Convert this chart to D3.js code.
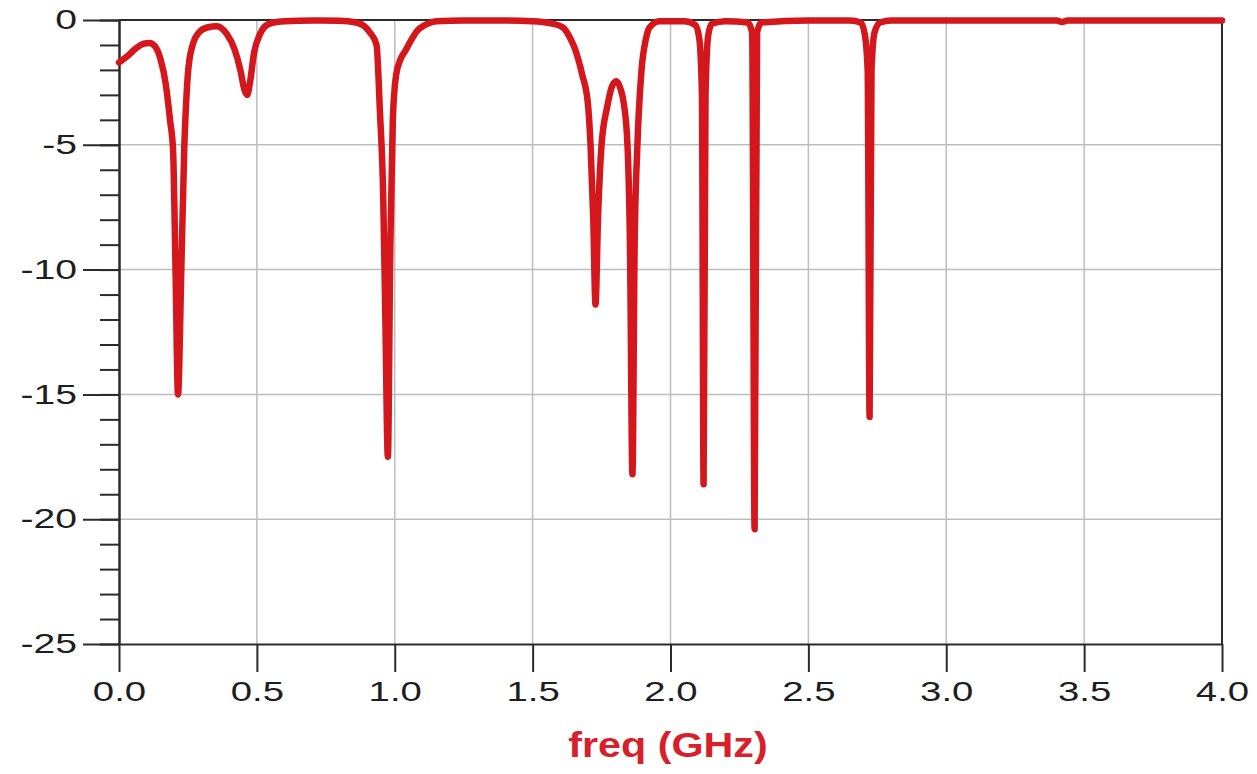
<!DOCTYPE html>
<html>
<head>
<meta charset="utf-8">
<script src="https://cdn.jsdelivr.net/npm/d3@7"></script>
<style>
  html, body { margin: 0; padding: 0; background: #fff; }
  svg { display: block; }
  .grid line { stroke: #bdbdbd; stroke-width: 1.5; }
  .axis path, .axis line { stroke: #2b2b2b; stroke-width: 2; }
  .axis text { font-family: "Liberation Sans", Arial, sans-serif; font-size: 27px; fill: #1e1e1e; }
</style>
</head>
<body>
<div id="chart"></div>
<script>
// --- Data (frequency in GHz, response in dB) ---
const freqGHz = [
  0.00, 0.03, 0.06, 0.09, 0.11, 0.13, 0.15, 0.17, 0.185, 0.196, 0.205, 0.214, 0.226, 0.237, 0.245, 0.252, 0.27, 0.29, 0.32, 0.355,
  0.39, 0.42, 0.44, 0.455, 0.465, 0.475, 0.49, 0.51, 0.53, 0.56, 0.60, 0.70, 0.80, 0.86, 0.89, 0.91, 0.934, 0.946, 0.958, 0.966,
  0.975, 0.984, 0.993, 1.005, 1.02, 1.04, 1.06, 1.08, 1.11, 1.15, 1.25, 1.40, 1.50, 1.56, 1.61, 1.635, 1.655, 1.68, 1.70, 1.71,
  1.72, 1.728, 1.737, 1.75, 1.77, 1.79, 1.804, 1.82, 1.83, 1.844, 1.853, 1.862, 1.87, 1.88, 1.895, 1.91, 1.924, 1.96, 2.05, 2.09,
  2.105, 2.114, 2.12, 2.127, 2.137, 2.15, 2.20, 2.28, 2.296, 2.305, 2.314, 2.33, 2.50, 2.65, 2.69, 2.705, 2.715, 2.722, 2.729, 2.74,
  2.76, 2.80, 3.40, 3.42, 3.44, 4.00
];
const s11dB = [
  -1.70, -1.45, -1.15, -0.95, -0.92, -1.05, -1.55, -2.6, -4.0, -5.2, -10.0, -15.0, -10.0, -5.0, -3.0, -1.9, -0.9, -0.5, -0.3, -0.25,
  -0.55, -1.2, -2.0, -2.8, -3.0, -2.5, -1.3, -0.6, -0.25, -0.1, -0.05, -0.02, -0.03, -0.1, -0.25, -0.5, -1.0, -3.6, -7.0, -12.0,
  -17.5, -9.0, -4.0, -2.2, -1.6, -1.2, -0.8, -0.45, -0.2, -0.05, -0.02, -0.02, -0.05, -0.12, -0.3, -0.7, -1.2, -2.2, -3.3, -5.0,
  -8.0, -11.4, -8.0, -5.0, -3.5, -2.6, -2.45, -2.8, -3.3, -5.0, -9.0, -18.2, -9.0, -5.0, -2.0, -0.8, -0.3, -0.05, -0.05, -0.2,
  -0.8, -3.0, -18.6, -3.0, -0.6, -0.15, -0.05, -0.1, -0.5, -20.4, -0.5, -0.1, -0.02, -0.02, -0.1, -0.6, -2.0, -15.9, -2.0, -0.5,
  -0.1, -0.02, -0.02, -0.08, -0.02, -0.02
];
const xTicks = [0.0, 0.5, 1.0, 1.5, 2.0, 2.5, 3.0, 3.5, 4.0];
const yTicks = [0, -5, -10, -15, -20, -25];
const yMinorTicks = d3.range(-25, 1, 1);
const xTitle = "freq (GHz)";

// --- Layout ---
const W = 1257, H = 774;
const plot = { left: 119, right: 1222, top: 20, bottom: 644 };

const svg = d3.select("#chart").append("svg")
    .attr("width", W)
    .attr("height", H);

const x = d3.scaleLinear().domain([0, 4]).range([plot.left, plot.right]);
const y = d3.scaleLinear().domain([-25, 0]).range([plot.bottom, plot.top]);

// grid
svg.append("g").attr("class", "grid")
  .selectAll("line")
  .data(xTicks.filter(d => d > 0 && d < 4))
  .enter().append("line")
    .attr("x1", d => x(d)).attr("x2", d => x(d))
    .attr("y1", plot.top).attr("y2", plot.bottom);

svg.append("g").attr("class", "grid")
  .selectAll("line")
  .data(yTicks.filter(d => d < 0 && d > -25))
  .enter().append("line")
    .attr("x1", plot.left).attr("x2", plot.right)
    .attr("y1", d => y(d)).attr("y2", d => y(d));

// frame (top and right)
svg.append("path")
  .attr("d", `M${plot.left},${plot.top}H${plot.right}V${plot.bottom}`)
  .attr("fill", "none")
  .attr("stroke", "#2b2b2b")
  .attr("stroke-width", 2);

// bottom axis
const xAxis = svg.append("g")
  .attr("class", "axis")
  .attr("transform", `translate(0,${plot.bottom})`)
  .call(d3.axisBottom(x).tickValues(xTicks).tickFormat(d => d.toFixed(1)).tickSize(28).tickPadding(10).tickSizeOuter(0));
xAxis.selectAll("text").attr("transform", "scale(1.42,1)");

// left axis: minor ticks then major ticks
svg.append("g")
  .attr("class", "axis")
  .attr("transform", `translate(${plot.left},0)`)
  .call(d3.axisLeft(y).tickValues(yMinorTicks).tickFormat("").tickSize(19).tickSizeOuter(0));

const yAxis = svg.append("g")
  .attr("class", "axis")
  .attr("transform", `translate(${plot.left},0)`)
  .call(d3.axisLeft(y).tickValues(yTicks).tickFormat(d => String(d)).tickSize(36).tickSizeOuter(0));
yAxis.selectAll("text")
  .attr("x", -42 / 1.45)
  .attr("transform", "scale(1.45,1)");

// response curve
const series = freqGHz.map((f, i) => ({ f: f, v: s11dB[i] }));
const line = d3.line()
  .x(d => x(d.f))
  .y(d => y(d.v))
  .curve(d3.curveMonotoneX);

svg.append("path")
  .datum(series)
  .attr("d", line)
  .attr("fill", "none")
  .attr("stroke", "#d4161d")
  .attr("stroke-width", 6.5)
  .attr("stroke-linejoin", "round")
  .attr("stroke-linecap", "round");

// x title
svg.append("text")
  .attr("transform", "translate(668,757) scale(1.18,1)")
  .attr("text-anchor", "middle")
  .style("font-family", "'Liberation Sans', Arial, sans-serif")
  .style("font-size", "35px")
  .style("font-weight", "bold")
  .style("fill", "#d8202a")
  .text(xTitle);
</script>
</body>
</html>
